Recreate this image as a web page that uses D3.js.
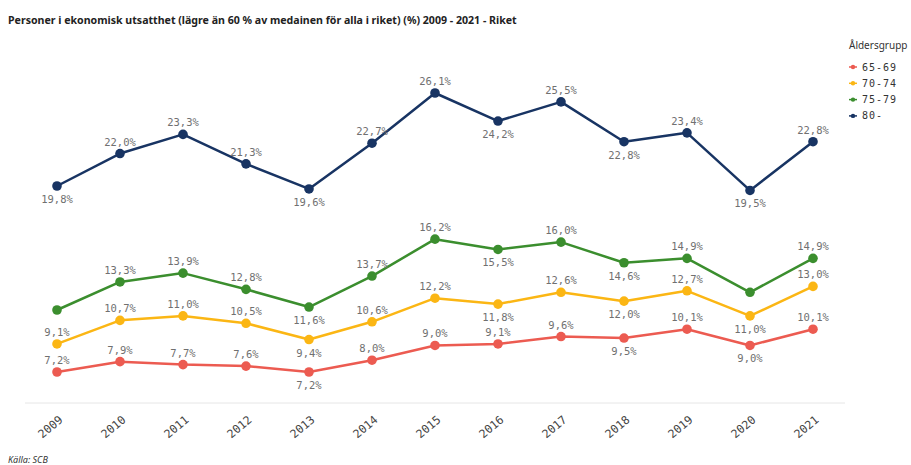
<!DOCTYPE html>
<meta charset="utf-8">
<style>
  body { margin: 0; background: #fff; }
  svg { display: block; }
</style>
<svg width="911" height="465"></svg>
<script src="https://d3js.org/d3.v7.min.js"></script>
<script>
// data
var years = ["2009","2010","2011","2012","2013","2014","2015","2016","2017","2018","2019","2020","2021"];
var groups = ["65-69", "70-74", "75-79", "80-"];
var v6569 = [7.2, 7.9, 7.7, 7.6, 7.2, 8.0, 9.0, 9.1, 9.6, 9.5, 10.1, 9.0, 10.1];
var v7074 = [9.1, 10.7, 11.0, 10.5, 9.4, 10.6, 12.2, 11.8, 12.6, 12.0, 12.7, 11.0, 13.0];
var v7579 = [11.4, 13.3, 13.9, 12.8, 11.6, 13.7, 16.2, 15.5, 16.0, 14.6, 14.9, 12.6, 14.9];
var v80 = [19.8, 22.0, 23.3, 21.3, 19.6, 22.7, 26.1, 24.2, 25.5, 22.8, 23.4, 19.5, 22.8];
// labels drawn under the point / labels the chart hides
var below6569 = ["2013", "2018", "2020"];
var below7074 = ["2013", "2016", "2018", "2020"];
var below7579 = ["2013", "2016", "2018"];
var below80 = ["2009", "2013", "2016", "2018", "2020"];
var hidden7579 = ["2009", "2020"];

var colors = ["#ec5b51", "#fbb614", "#3b8e2e", "#183463"];

var series = [
  {name: groups[0], values: v6569, below: below6569, hidden: [], color: colors[0]},
  {name: groups[1], values: v7074, below: below7074, hidden: [], color: colors[1]},
  {name: groups[2], values: v7579, below: below7579, hidden: hidden7579, color: colors[2]},
  {name: groups[3], values: v80, below: below80, hidden: [], color: colors[3]}
];

var svg = d3.select("svg");
var mono = "'DejaVu Sans Mono', monospace";

var x = d3.scalePoint().domain(years).range([57, 813]);
var y = d3.scaleLinear().domain([7.2, 26.1]).range([372, 93]);

svg.append("text")
  .attr("x", 8).attr("y", 24)
  .attr("font-family", "'Noto Sans', sans-serif")
  .attr("font-weight", "bold")
  .attr("font-size", 10.6)
  .attr("fill", "#222")
  .text("Personer i ekonomisk utsatthet (lägre än 60 % av medainen för alla i riket) (%) 2009 - 2021 - Riket");

// x axis
var xAxis = svg.append("g")
  .attr("transform", "translate(0,403)")
  .call(d3.axisBottom(x).tickSize(0).tickPadding(0));
xAxis.select(".domain").remove();
xAxis.append("line")
  .attr("x1", 25).attr("x2", 845)
  .attr("stroke", "#e6e6e6");
xAxis.selectAll(".tick text")
  .attr("font-family", mono)
  .attr("font-size", 11.5)
  .attr("fill", "#444")
  .attr("text-anchor", "end")
  .attr("dy", 0)
  .attr("transform", "translate(6,18) rotate(-40)");

var line = d3.line()
  .x(function(d, i) { return x(years[i]); })
  .y(function(d) { return y(d); });

var g = svg.selectAll("g.series")
  .data(series)
  .enter().append("g")
  .attr("class", "series");

g.append("path")
  .attr("d", function(s) { return line(s.values); })
  .attr("fill", "none")
  .attr("stroke", function(s) { return s.color; })
  .attr("stroke-width", 2.5)
  .attr("stroke-linejoin", "round");

g.selectAll("circle")
  .data(function(s) { return s.values.map(function(v, i) { return {v: v, year: years[i], s: s}; }); })
  .enter().append("circle")
  .attr("cx", function(d) { return x(d.year); })
  .attr("cy", function(d) { return y(d.v); })
  .attr("r", 4.8)
  .attr("fill", function(d) { return d.s.color; });

g.selectAll("text.lbl")
  .data(function(s) {
    return s.values.map(function(v, i) { return {v: v, year: years[i], s: s}; })
      .filter(function(d) { return s.hidden.indexOf(d.year) < 0; });
  })
  .enter().append("text")
  .attr("class", "lbl")
  .attr("x", function(d) { return x(d.year); })
  .attr("y", function(d) { return y(d.v) + (d.s.below.indexOf(d.year) >= 0 ? 17 : -8); })
  .attr("text-anchor", "middle")
  .attr("font-family", mono)
  .attr("font-size", 10.5)
  .attr("fill", "#707070")
  .text(function(d) { return d.v.toFixed(1).replace(".", ",") + "%"; });

// legend
var legend = svg.append("g").attr("transform", "translate(849,0)");
legend.append("text")
  .attr("x", 0).attr("y", 49)
  .attr("font-family", "'Noto Sans', sans-serif")
  .attr("font-size", 10)
  .attr("fill", "#333")
  .text("Åldersgrupp");
var item = legend.selectAll("g.item")
  .data(series)
  .enter().append("g")
  .attr("class", "item")
  .attr("transform", function(d, i) { return "translate(0," + (67 + i * 16.3) + ")"; });
item.append("line")
  .attr("x1", 0).attr("x2", 8)
  .attr("stroke", function(d) { return d.color; })
  .attr("stroke-width", 1.5);
item.append("circle")
  .attr("cx", 4).attr("r", 2.2)
  .attr("fill", function(d) { return d.color; });
item.append("text")
  .attr("x", 13).attr("y", 3.5)
  .attr("font-family", mono)
  .attr("font-size", 10)
  .attr("letter-spacing", 1)
  .attr("fill", "#333")
  .text(function(d) { return d.name; });

svg.append("text")
  .attr("x", 8).attr("y", 463)
  .attr("font-family", "'Noto Sans', sans-serif")
  .attr("font-style", "italic")
  .attr("font-size", 9)
  .attr("fill", "#333")
  .text("Källa: SCB");
</script>
